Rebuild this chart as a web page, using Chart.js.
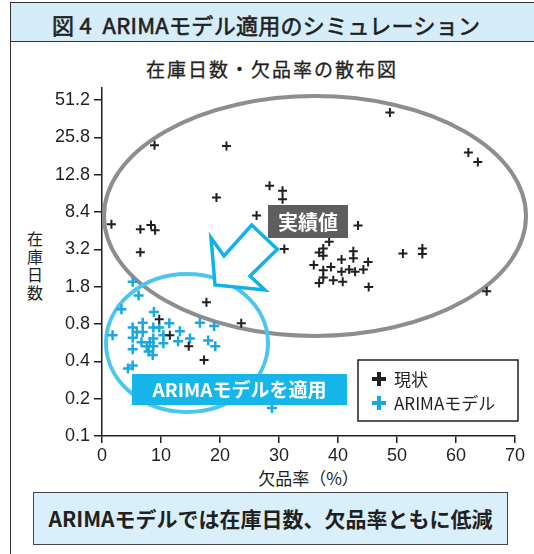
<!DOCTYPE html>
<html>
<head>
<meta charset="utf-8">
<script src="https://cdn.jsdelivr.net/npm/chart.js@4.4.1/dist/chart.umd.min.js"></script>
<style>
  body { margin: 0; background: #fff; }
  #wrap { position: relative; width: 534px; height: 554px; overflow: hidden; font-family: "Noto Sans CJK JP", "Noto Sans", sans-serif; color: #231f20; }
  #frame { position: absolute; left: 10px; top: 2px; width: 600px; height: 600px; border-left: 1.5px solid #333; border-top: 1.5px solid #333; }
  #head { position: absolute; left: 11px; top: 3px; width: 600px; height: 38px; background: #d4edf9; border-bottom: 1.5px solid #333; }
  #headText { position: absolute; left: 41px; top: 5px; font-size: 22px; font-weight: normal; -webkit-text-stroke: 0.6px #231f20; letter-spacing: 0.3px; white-space: nowrap; }
  #title { position: absolute; left: 10px; width: 524px; top: 55px; text-align: center; font-size: 19px; font-weight: normal; -webkit-text-stroke: 0.3px #231f20; letter-spacing: 2px; }
  #ytitle { position: absolute; left: 26px; top: 229px; width: 18px; font-size: 16px; line-height: 18px; text-align: center; }
  #xtitle { position: absolute; left: 102px; width: 413px; top: 465px; text-align: center; font-size: 17px; }
  #foot { position: absolute; left: 33px; top: 492px; width: 473px; height: 51px; background: #d9f0fb; border: 1.5px solid #444; text-align: center; line-height: 51px; font-size: 21px; font-weight: bold; white-space: nowrap; }
  canvas { position: absolute; left: 0; top: 0; }
</style>
</head>
<body>
<div id="wrap">
  <div id="frame"></div>
  <div id="head"><div id="headText">図 4&nbsp; ARIMAモデル適用のシミュレーション</div></div>
  <div id="title">在庫日数・欠品率の散布図</div>
  <div id="ytitle">在<br>庫<br>日<br>数</div>
  <div id="xtitle">欠品率（%）</div>
  <div id="foot">ARIMAモデルでは在庫日数、欠品率ともに低減</div>
  <canvas id="myChart" width="534" height="554"></canvas>
</div>
<script>
// 目盛り
const yTickValues = [0.1, 0.2, 0.4, 0.8, 1.6, 3.2, 6.4, 12.8, 25.6, 51.2];
const yTickLabels = ['0.1', '0.2', '0.4', '0.8', '1.8', '3.2', '8.4', '12.8', '25.8', '51.2'];

// 現状
const actualX = [1.6, 6.5, 8.3, 9.0, 6.5, 8.9, 21.1, 19.4, 26.2, 28.4, 30.6, 30.6, 30.9, 48.8, 62.1, 63.7,
    43.4, 38.5, 37.5, 36.8, 37.5, 35.9, 37.5, 38.8, 40.6, 42.6, 42.6, 45.1, 40.6, 41.9, 42.9, 44.3,
    36.8, 39.2, 40.8, 45.2, 51.0, 54.3, 54.3, 65.2, 37.5,
    17.7, 9.7, 11.5, 14.7, 23.6, 17.3];
const actualY = [5.09, 4.65, 5.02, 4.56, 3.03, 22.1, 21.8, 8.39, 6.01, 10.4, 9.5, 8.1, 3.22, 40.7, 19.3, 16.2,
    4.99, 3.68, 3.25, 3.02, 2.84, 2.39, 2.17, 2.31, 2.65, 3.09, 2.71, 2.53, 2.11, 2.20, 2.11, 2.20,
    1.71, 1.80, 1.75, 1.59, 2.96, 3.25, 2.93, 1.47, 1.90,
    1.20, 0.875, 0.65, 0.53, 0.81, 0.41];

// ARIMAモデル
const arimaX = [5.2, 6.2, 3.3, 8.8, 1.8, 5.2, 6.9, 5.2, 6.9, 5.9, 6.7, 5.2, 8.7, 9.7, 11.4, 10.4,
    8.7, 8.1, 7.6, 8.7, 7.9, 8.6, 10.4, 13.2, 12.9, 14.9, 16.6, 19.0, 18.0, 19.2, 4.4, 5.2, 28.8];
const arimaY = [1.75, 1.36, 1.05, 1.00, 0.65, 0.75, 0.82, 0.62, 0.69, 0.69, 0.57, 0.50, 0.75, 0.75, 0.81, 0.65,
    0.61, 0.57, 0.53, 0.53, 0.48, 0.45, 0.56, 0.70, 0.58, 0.61, 0.82, 0.77, 0.59, 0.53, 0.35, 0.37, 0.168];

const ink = '#231f20';
const blue = '#1aa8e2';

function pts(xs, ys) {
    return xs.map((x, i) => ({ x: x, y: ys[i] }));
}

// 楕円・矢印・ラベル・凡例
const decor = {
    id: 'decor',
    beforeDatasetsDraw(chart) {
        const c = chart.ctx;
        c.save();
        c.lineWidth = 4;
        c.strokeStyle = '#8e8e90';
        c.beginPath();
        c.ellipse(315, 216, 211, 120, 0, 0, Math.PI * 2);
        c.stroke();
        c.strokeStyle = '#4cc6f0';
        c.beginPath();
        c.ellipse(187, 343, 81, 69, 0, 0, Math.PI * 2);
        c.stroke();
        // 矢印
        c.fillStyle = '#fff';
        c.strokeStyle = '#0fb2ea';
        c.lineWidth = 3.5;
        c.lineJoin = 'miter';
        c.beginPath();
        c.moveTo(251.7, 225);
        c.lineTo(277.3, 249.3);
        c.lineTo(250, 276);
        c.lineTo(265, 290);
        c.lineTo(215, 285);
        c.lineTo(211, 237.7);
        c.lineTo(224, 256);
        c.closePath();
        c.fill();
        c.stroke();
        c.restore();
    },
    afterDatasetsDraw(chart) {
        const c = chart.ctx;
        c.save();
        c.textAlign = 'center';
        c.textBaseline = 'middle';
        c.fillStyle = '#5e5e60';
        c.fillRect(268, 205, 80, 33);
        c.fillStyle = '#fff';
        c.font = 'bold 20px "Noto Sans CJK JP"';
        c.fillText('実績値', 308, 222);
        c.fillStyle = '#17b6ea';
        c.fillRect(132, 374, 215, 31);
        c.fillStyle = '#fff';
        c.font = 'bold 19px "Noto Sans CJK JP"';
        c.fillText('ARIMAモデルを適用', 239.5, 390);
        // 凡例
        c.fillStyle = '#fff';
        c.fillRect(358, 360, 160, 61);
        c.strokeStyle = ink;
        c.lineWidth = 1.5;
        c.strokeRect(358, 360, 160, 61);
        const items = [['現状', ink, 379], ['ARIMAモデル', blue, 403]];
        c.textAlign = 'left';
        c.font = '17px "Noto Sans CJK JP"';
        items.forEach((it) => {
            c.strokeStyle = it[1];
            c.lineWidth = 4;
            c.beginPath();
            c.moveTo(372, it[2]); c.lineTo(386, it[2]);
            c.moveTo(379, it[2] - 7); c.lineTo(379, it[2] + 7);
            c.stroke();
            c.fillStyle = ink;
            c.fillText(it[0], 394, it[2] + 1);
        });
        c.restore();
    }
};

const tickFont = { family: '"Liberation Sans", Arial, sans-serif', size: 18 };

const ctx = document.getElementById('myChart').getContext('2d');
const myChart = new Chart(ctx, {
    type: 'scatter',
    data: {
        datasets: [{
            label: '現状',
            data: pts(actualX, actualY),
            pointStyle: 'cross',
            pointRadius: 4.5,
            borderWidth: 2,
            borderColor: ink,
            backgroundColor: ink
        }, {
            label: 'ARIMAモデル',
            data: pts(arimaX, arimaY),
            pointStyle: 'cross',
            pointRadius: 5,
            borderWidth: 2.5,
            borderColor: blue,
            backgroundColor: blue
        }]
    },
    options: {
        responsive: false,
        animation: false,
        layout: { padding: { top: 88, right: 19, left: 0, bottom: 0 } },
        plugins: { legend: { display: false }, tooltip: { enabled: false } },
        scales: {
            x: {
                type: 'linear',
                min: 0,
                max: 70,
                ticks: { stepSize: 10, color: ink, font: tickFont, padding: 2, maxRotation: 0 },
                grid: { drawOnChartArea: false, drawTicks: true, tickLength: 7, color: ink, lineWidth: 1.5 },
                border: { display: true, color: ink, width: 1.5 },
                afterFit(scale) { scale.height = 118; }
            },
            y: {
                type: 'logarithmic',
                min: 0.1,
                max: 64,
                afterBuildTicks(scale) {
                    scale.ticks = yTickValues.map((v) => ({ value: v }));
                },
                ticks: {
                    color: ink,
                    font: tickFont,
                    padding: 4,
                    callback: (value, index) => yTickLabels[index]
                },
                grid: { drawOnChartArea: false, drawTicks: true, tickLength: 8, color: ink, lineWidth: 1.5 },
                border: { display: true, color: ink, width: 1.5 },
                afterFit(scale) { scale.width = 102; }
            }
        }
    },
    plugins: [decor]
});
</script>
</body>
</html>
